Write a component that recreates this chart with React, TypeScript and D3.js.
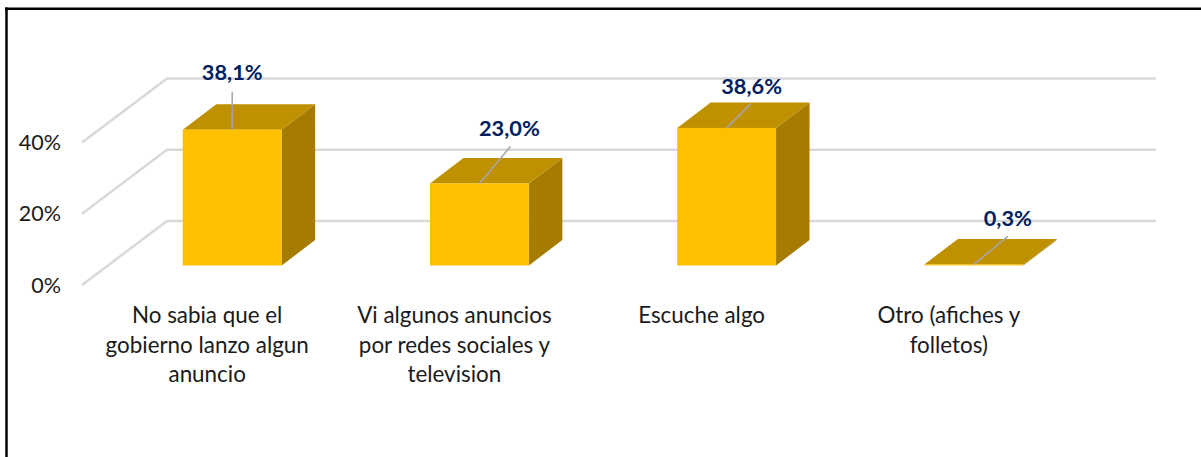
import React from "react";
import * as d3 from "d3";

const categories = ["No sabia que el gobierno lanzo algun anuncio", "Vi algunos anuncios por redes sociales y television", "Escuche algo", "Otro (afiches y folletos)"];
const categoryLines = [
  ["No sabia que el", "gobierno lanzo algun", "anuncio"],
  ["Vi algunos anuncios", "por redes sociales y", "television"],
  ["Escuche algo"],
  ["Otro (afiches y", "folletos)"],
];
const values = [38.1, 23.0, 38.6, 0.3];
const valueLabels = ["38,1%", "23,0%", "38,6%", "0,3%"];
const yTicks = [0, 20, 40];

const W = 1201, H = 457;
const frontBase = 265.5;
const depthX = 33.5, depthY = 25.5;
const floorLeft = 82, floorBack = 167, gridRight = 1156;
const axisY0 = 285, gridBack0 = 221;
const pxPerPct = 3.565;
const labelFont = "Lato, Carlito, Calibri, sans-serif";

// presentation offsets per bar: leader end and label anchor relative to bar centre / top
const leaderEnd = [[0, -38], [31, -37], [24, -24], [34, -28]];
const labelOffset = [[0, -50], [30, -47.5], [25, -34], [34, -38]];
const catLabelShift = -25;

export default function App() {
  const x = d3.scaleBand<string>().domain(categories).range([108.6, 1097.4]).paddingInner(0.6).paddingOuter(0.3);
  const h = d3.scaleLinear().domain([0, 1]).range([0, pxPerPct]);
  const poly = (pts: number[][]) => pts.map((p) => p.join(",")).join(" ");
  return (
    <svg width={W} height={H} style={{ position: "absolute", left: 0, top: 0, display: "block" }}>
      <rect width={W} height={H} fill="#fff" />
      <line x1={5} x2={W} y1={8.7} y2={8.7} stroke="#000" strokeWidth={2.5} />
      <line x1={6.5} x2={6.5} y1={7.5} y2={H} stroke="#000" strokeWidth={2.5} />
      {yTicks.map((t) => {
        const yF = axisY0 - h(t);
        const yB = gridBack0 - h(t);
        return (
          <g key={t}>
            <polyline points={poly([[floorLeft, yF], [floorBack, yB], [gridRight, yB]])} fill="none" stroke="#d9d9d9" strokeWidth={2.5} />
            <text x={61} y={yF + 7.5} textAnchor="end" fontFamily={labelFont} fontSize={21.5} fill="#1a1a1a">{t}%</text>
          </g>
        );
      })}
      {categories.map((c, i) => {
        const x0 = x(c)!;
        const bw = x.bandwidth();
        const x1 = x0 + bw;
        const top = frontBase - h(values[i]);
        const cx = x0 + bw / 2;
        return (
          <g key={c}>
            <polygon points={poly([[x1, top], [x1 + depthX, top - depthY], [x1 + depthX, frontBase - depthY], [x1, frontBase]])} fill="#a67c00" />
            <polygon points={poly([[x0, top], [x0 + depthX, top - depthY], [x1 + depthX, top - depthY], [x1, top]])} fill="#bf9000" />
            <rect x={x0} y={top} width={bw} height={h(values[i])} fill="#ffc000" />
            <line x1={cx} y1={top} x2={cx + leaderEnd[i][0]} y2={top + leaderEnd[i][1]} stroke="#a6a6a6" strokeWidth={1.5} />
            <text x={cx + labelOffset[i][0]} y={top + labelOffset[i][1]} textAnchor="middle" fontFamily={labelFont} fontWeight={700} fontSize={21.8} fill="#002060">{valueLabels[i]}</text>
            {categoryLines[i].map((l, k) => (
              <text key={k} x={cx + catLabelShift} y={323 + k * 29.7} textAnchor="middle" fontFamily={labelFont} fontSize={22.4} fill="#1a1a1a">{l}</text>
            ))}
          </g>
        );
      })}
    </svg>
  );
}
